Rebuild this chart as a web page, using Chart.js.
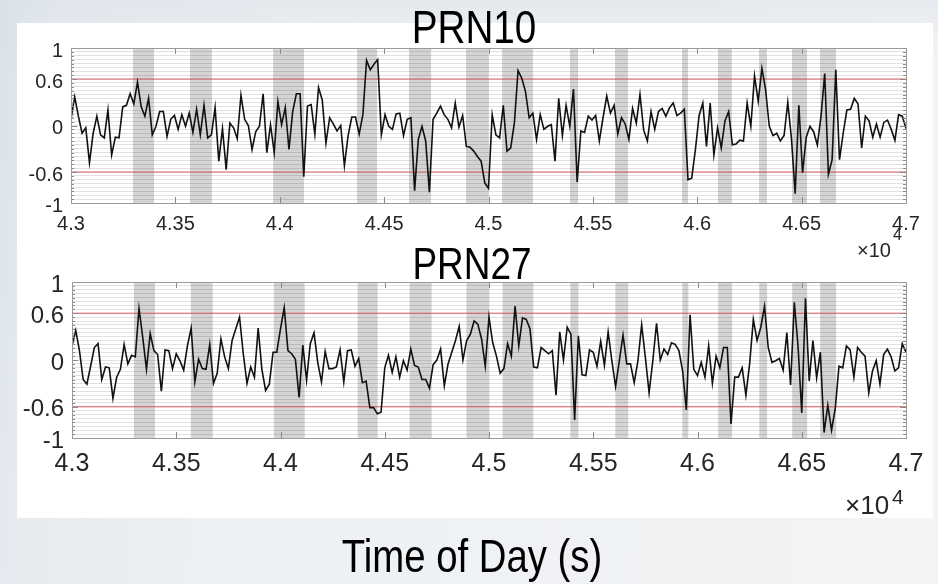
<!DOCTYPE html>
<html>
<head>
<meta charset="utf-8">
<title>PRN10 / PRN27</title>
<script src="https://cdn.jsdelivr.net/npm/chart.js@4.4.1/dist/chart.umd.min.js"></script>
<style>
  html, body { margin: 0; padding: 0; }
  body {
    width: 938px; height: 584px; position: relative; overflow: hidden;
    background:
      linear-gradient(180deg, rgba(220,226,233,0.55) 0%, rgba(238,241,244,0) 9%),
      linear-gradient(95deg, #d9e1e9 0%, #e6ebf0 6%, #eef1f4 30%, #f0f2f4 70%, #f3f4f5 100%);
  }
  #panel { position: absolute; left: 17px; top: 23px; width: 916px; height: 495px; background: #fff; }
  canvas { position: absolute; left: 0; top: 0; }
  .txt {
    position: absolute; font-family: 'Liberation Sans', Arial, Helvetica, sans-serif;
    line-height: 1; white-space: nowrap; color: #000;
  }
  .narrow { text-align: center; transform-origin: 50% 0; }
</style>
</head>
<body>
<div id="panel"></div>
<canvas id="top" width="938" height="584"></canvas>
<canvas id="bottom" width="938" height="584"></canvas>

<div class="txt narrow" style="left:274px;width:400px;top:4px;font-size:46px;transform:scaleX(0.84)">PRN10</div>
<div class="txt narrow" style="left:272px;width:400px;top:242px;font-size:44px;transform:scaleX(0.84)">PRN27</div>
<div class="txt narrow" style="left:222px;width:500px;top:532px;font-size:47px;transform:scaleX(0.815)">Time of Day (s)</div>

<div class="txt" style="left:857px;top:240px;font-size:20px;color:#262626">&times;10</div>
<div class="txt" style="left:893px;top:227px;font-size:16px;color:#262626">4</div>
<div class="txt" style="left:845px;top:492px;font-size:26px;color:#262626">&times;10</div>
<div class="txt" style="left:892px;top:486px;font-size:21px;color:#262626">4</div>

<script>
// time axis, seconds of day
const tStart = 43000;
const tEnd = 47000;
const xTickValues = [43000, 43500, 44000, 44500, 45000, 45500, 46000, 46500, 47000];
const yTickValues = [-1, -0.6, 0, 0.6, 1];
const thresholds = [0.6, -0.6];

// grey intervals, [start, end] in seconds
const shadedSpans = [
  [43297, 43398], [43570, 43675], [43968, 44116], [44370, 44466], [44619, 44725],
  [44892, 45002], [45065, 45213], [45390, 45429], [45606, 45668], [45927, 45956],
  [46099, 46166], [46296, 46334], [46454, 46526], [46588, 46665]
];

// evenly sampled between tStart and tEnd
const prn10 = [
  0.08, 0.37, 0.12, -0.10, -0.03, -0.48, -0.10, 0.12, -0.12, -0.16, 0.20, -0.38, -0.15, -0.16, 0.24, 0.26,
  0.41, 0.28, 0.56, 0.24, 0.12, 0.35, -0.12, -0.01, 0.18, 0.18, -0.14, 0.08, 0.13, -0.05, 0.14, -0.01,
  0.16, -0.09, 0.21, -0.12, 0.26, -0.16, -0.12, 0.23, -0.46, -0.04, -0.57, 0.03, -0.03, -0.17, 0.39, 0.08,
  0.00, -0.31, -0.08, -0.01, 0.41, -0.35, 0.01, -0.35, 0.31, 0.01, 0.23, -0.31, 0.18, 0.41, 0.41, -0.66,
  0.25, 0.27, -0.11, 0.49, 0.33, -0.23, 0.10, 0.02, -0.07, 0.00, -0.52, -0.13, 0.11, 0.11, -0.11, 0.14,
  0.84, 0.72, 0.79, 0.85, -0.12, 0.14, -0.01, -0.05, 0.15, 0.16, -0.13, 0.08, 0.10, -0.84, -0.18, -0.01,
  -0.20, -0.86, 0.08, 0.16, 0.25, 0.14, 0.08, -0.03, 0.29, -0.02, 0.13, -0.27, -0.28,
  -0.33, -0.40, -0.46, -0.74, -0.81, 0.14, -0.12, -0.16, 0.26, -0.33, -0.29, 0.03, 0.71, 0.61, 0.44, 0.10,
  0.16, -0.18, 0.14, -0.05, -0.01, 0.01, -0.46, 0.35, -0.13, 0.26, -0.01, 0.47, -0.73, -0.07, -0.09, 0.12,
  0.07, 0.13, -0.20, 0.10, 0.38, 0.16, 0.26, -0.11, 0.10, 0.02, -0.18, 0.22, 0.03, 0.40, -0.06, -0.20,
  0.18, -0.05, 0.18, 0.22, 0.12, 0.23, 0.29, 0.13, 0.16, 0.21, -0.70, -0.68, -0.31, 0.13, 0.29, -0.27,
  0.29, -0.38, -0.03, -0.29, 0.06, 0.18, -0.25, -0.24, -0.19, -0.20, 0.29, -0.01, 0.64, 0.31, 0.74, 0.46,
  -0.01, -0.13, -0.10, -0.20, -0.13, 0.30, -0.17, -0.88, 0.26, -0.61, -0.15, -0.01, -0.08, -0.25, 0.12, 0.67,
  -0.63, -0.44, 0.72, -0.44, -0.10, 0.20, 0.21, 0.35, 0.28, -0.29, 0.12, 0.06, -0.15, 0.02, -0.15, 0.04,
  0.07, -0.05, -0.19, 0.14, 0.12, -0.04
];

const prn27 = [
  0.18, 0.38, 0.12, -0.25, -0.31, -0.08, 0.16, 0.21, -0.25, -0.09, -0.10, -0.49, -0.22, -0.12, 0.20, -0.05,
  0.06, 0.04, 0.66, 0.29, -0.12, 0.34, 0.12, 0.07, -0.40, 0.13, 0.12, -0.11, 0.08, -0.01, -0.13, 0.18,
  0.41, -0.28, 0.01, -0.11, -0.12, 0.20, -0.30, -0.17, 0.27, 0.04, -0.11, 0.25, 0.40, 0.55, 0.08, -0.30,
  -0.09, -0.22, 0.41, -0.12, -0.39, -0.31, 0.10, 0.10, 0.40, 0.67, 0.12, 0.08, 0.01, -0.48, 0.19, -0.26,
  0.21, 0.35, -0.03, -0.28, 0.11, -0.11, -0.11, -0.09, 0.13, -0.28, 0.12, 0.13, -0.08, 0.02, -0.29, -0.27,
  -0.61, -0.61, -0.69, -0.67, -0.10, 0.06, -0.16, 0.04, -0.22, -0.01, -0.13, 0.14, -0.07, -0.09, -0.25, -0.25,
  -0.36, -0.06, 0.00, 0.14, -0.33, -0.05, 0.10, 0.25, 0.43, 0.00, 0.25, 0.33,
  0.50, 0.46, 0.27, -0.08, 0.55, 0.22, 0.05, -0.17, -0.11, 0.21, 0.05, 0.69, 0.18, 0.54, 0.52, 0.40,
  -0.09, -0.10, 0.16, 0.12, 0.08, 0.12, -0.45, 0.36, 0.00, 0.42, 0.33, -0.77, 0.31, -0.19, -0.20, 0.13,
  0.10, -0.08, 0.24, -0.07, 0.36, -0.01, -0.34, -0.01, 0.32, -0.05, -0.05, -0.29, -0.01, 0.45, 0.03, -0.42,
  -0.01, 0.47, 0.00, 0.14, 0.07, 0.22, 0.20, 0.12, -0.14, -0.64, 0.58, -0.12, -0.20, -0.03, -0.22, 0.18,
  -0.30, 0.05, -0.10, 0.16, 0.16, -0.82, -0.22, -0.22, -0.10, -0.45, -0.05, 0.52, 0.25, 0.42, 0.69, 0.16,
  -0.03, -0.01, 0.02, -0.13, 0.35, -0.32, 0.74, 0.18, -0.68, 0.79, -0.27, 0.25, -0.23, 0.10, -0.93, -0.58,
  -0.90, -0.62, -0.08, -0.10, 0.18, 0.13, -0.22, 0.16, 0.10, 0.05, -0.42, -0.14, -0.01, -0.31, 0.07, 0.14,
  0.04, -0.14, -0.10, 0.21, 0.10
];

const FONT = "'Liberation Sans', Arial, Helvetica, sans-serif";
// minor grid every 0.05
const yGrid = Array.from({ length: 41 }, (_, i) => +(-1 + i * 0.05).toFixed(2));
const isMajorY = v => yTickValues.some(t => Math.abs(t - v) < 1e-6);

// grey spans under the trace, box and inward tick marks on top
const framePlugin = {
  id: 'frame',
  beforeDatasetsDraw(chart) {
    const { ctx, chartArea: a, scales: { x } } = chart;
    ctx.save();
    ctx.fillStyle = 'rgba(0,0,0,0.17)';
    shadedSpans.forEach(([s, e]) => {
      const x0 = x.getPixelForValue(s);
      const x1 = x.getPixelForValue(e);
      ctx.fillRect(x0, a.top, x1 - x0, a.bottom - a.top);
    });
    ctx.restore();
  },
  afterDatasetsDraw(chart) {
    const { ctx, chartArea: a, scales: { x, y } } = chart;
    ctx.save();
    ctx.strokeStyle = '#8a8a8a';
    ctx.lineWidth = 1;
    ctx.beginPath();
    xTickValues.forEach(v => {
      const px = Math.round(x.getPixelForValue(v)) + 0.5;
      ctx.moveTo(px, a.top); ctx.lineTo(px, a.top + 6);
      ctx.moveTo(px, a.bottom); ctx.lineTo(px, a.bottom - 6);
    });
    yGrid.forEach(v => {
      const py = Math.round(y.getPixelForValue(v)) + 0.5;
      const len = isMajorY(v) ? 6 : 3;
      ctx.moveTo(a.left, py); ctx.lineTo(a.left + len, py);
      ctx.moveTo(a.right, py); ctx.lineTo(a.right - len, py);
    });
    ctx.stroke();
    ctx.strokeStyle = '#9a9a9a';
    ctx.strokeRect(Math.round(a.left) + 0.5, Math.round(a.top) + 0.5,
      Math.round(a.right - a.left), Math.round(a.bottom - a.top));
    ctx.restore();
  }
};

function buildChart(id, name, values, fonts, pad) {
  const step = (tEnd - tStart) / (values.length - 1);
  const datasets = [{
    label: name,
    data: values.map((v, i) => ({ x: tStart + i * step, y: v })),
    borderColor: '#111',
    borderWidth: 1.6,
    pointRadius: 0,
    tension: 0
  }];
  thresholds.forEach(th => datasets.push({
    label: 'threshold ' + th,
    data: [{ x: tStart, y: th }, { x: tEnd, y: th }],
    borderColor: 'rgba(215,70,70,0.85)',
    borderWidth: 1,
    pointRadius: 0
  }));

  return new Chart(document.getElementById(id), {
    type: 'line',
    data: { datasets },
    options: {
      responsive: false,
      animation: false,
      devicePixelRatio: 1,
      layout: { padding: pad },
      plugins: { legend: { display: false }, tooltip: { enabled: false } },
      scales: {
        x: {
          type: 'linear',
          min: tStart,
          max: tEnd,
          afterBuildTicks: s => { s.ticks = xTickValues.map(v => ({ value: v })); },
          afterFit: s => { s.height = fonts.xHeight; s.paddingLeft = 0; s.paddingRight = 0; },
          grid: { display: false, drawTicks: false },
          border: { display: false },
          ticks: {
            padding: fonts.xPad,
            color: '#262626',
            font: { family: FONT, size: fonts.x },
            maxRotation: 0,
            autoSkip: false,
            callback: v => String(+(v / 1e4).toFixed(2))
          }
        },
        y: {
          type: 'linear',
          min: -1,
          max: 1,
          afterBuildTicks: s => { s.ticks = yGrid.map(v => ({ value: v })); },
          afterFit: s => { s.width = 60; s.paddingTop = 0; s.paddingBottom = 0; },
          grid: { color: '#e1e1e1', lineWidth: 1, drawTicks: false },
          border: { display: false },
          ticks: {
            padding: 8,
            labelOffset: 3,
            color: '#262626',
            font: { family: FONT, size: fonts.y },
            autoSkip: false,
            callback: v => {
              const t = yTickValues.find(t => Math.abs(t - v) < 1e-6);
              return t === undefined ? '' : String(t);
            }
          }
        }
      }
    },
    plugins: [framePlugin]
  });
}

// chart areas: top 71..906 x 48..203, bottom 72..906 x 282..438
buildChart('top', 'PRN10', prn10, { x: 20, y: 20, xPad: 9, xHeight: 36 },
  { left: 11, right: 32, top: 48, bottom: 345 });
buildChart('bottom', 'PRN27', prn27, { x: 25, y: 24, xPad: 11, xHeight: 44 },
  { left: 12, right: 32, top: 282, bottom: 102 });
</script>
</body>
</html>
